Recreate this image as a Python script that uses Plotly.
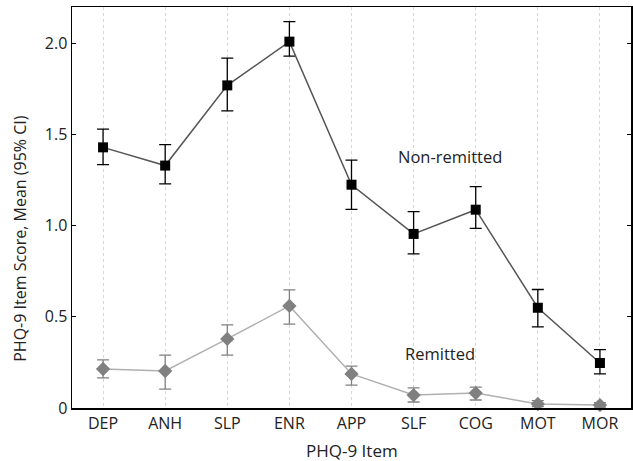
import plotly.graph_objects as go

items = ["DEP", "ANH", "SLP", "ENR", "APP", "SLF", "COG", "MOT", "MOR"]

nonrem_mean = [1.43, 1.33, 1.77, 2.01, 1.225, 0.955, 1.088, 0.55, 0.247]
nonrem_hi = [1.53, 1.445, 1.92, 2.12, 1.36, 1.077, 1.214, 0.65, 0.32]
nonrem_lo = [1.335, 1.23, 1.63, 1.93, 1.09, 0.846, 0.985, 0.445, 0.187]

rem_mean = [0.214, 0.203, 0.379, 0.56, 0.187, 0.071, 0.082, 0.022, 0.016]
rem_hi = [0.264, 0.29, 0.456, 0.648, 0.23, 0.11, 0.115, 0.04, 0.03]
rem_lo = [0.165, 0.104, 0.29, 0.46, 0.126, 0.033, 0.044, 0.008, 0.005]

y_ticks = [0, 0.5, 1.0, 1.5, 2.0]
y_tick_text = ["0", "0.5", "1.0", "1.5", "2.0"]

FONT = "Open Sans"
TXT = "#222222"

fig = go.Figure()

fig.add_trace(go.Scatter(
    x=items, y=rem_mean, mode="lines+markers",
    line=dict(color="#b0b0b0", width=1.5),
    marker=dict(symbol="diamond", size=11, color="#808080"),
    error_y=dict(type="data", symmetric=False,
                 array=[h - m for h, m in zip(rem_hi, rem_mean)],
                 arrayminus=[m - l for m, l in zip(rem_mean, rem_lo)],
                 color="#808080", thickness=1.3, width=6),
    showlegend=False, cliponaxis=False, hoverinfo="skip",
))

fig.add_trace(go.Scatter(
    x=items, y=nonrem_mean, mode="lines+markers",
    line=dict(color="#555555", width=1.5),
    marker=dict(symbol="square", size=10, color="#000000"),
    error_y=dict(type="data", symmetric=False,
                 array=[h - m for h, m in zip(nonrem_hi, nonrem_mean)],
                 arrayminus=[m - l for m, l in zip(nonrem_mean, nonrem_lo)],
                 color="#000000", thickness=1.3, width=6),
    showlegend=False, cliponaxis=False, hoverinfo="skip",
))

fig.add_annotation(x="SLF", xshift=36, y=1.38, text="Non-remitted", showarrow=False,
                   font=dict(family=FONT, size=16.5, color=TXT))
fig.add_annotation(x="SLF", xshift=26, y=0.3, text="Remitted", showarrow=False,
                   font=dict(family=FONT, size=16.5, color=TXT))

# axis titles
fig.add_annotation(xref="paper", yref="paper", x=0.5, y=0, yshift=-42,
                   xanchor="center", yanchor="middle", showarrow=False,
                   text="PHQ-9 Item", font=dict(family=FONT, size=17, color=TXT))
fig.add_annotation(xref="paper", yref="paper", x=0, xshift=-52, y=0.422,
                   xanchor="center", yanchor="middle", showarrow=False, textangle=-90,
                   text="PHQ-9 Item Score, Mean (95% CI)",
                   font=dict(family=FONT, size=16, color=TXT))

fig.update_layout(
    width=633, height=461,
    margin=dict(l=72, r=2, t=7, b=53),
    paper_bgcolor="white", plot_bgcolor="white",
    font=dict(family=FONT, size=15, color=TXT),
    xaxis=dict(
        type="category", categoryorder="array", categoryarray=items,
        range=[-0.5, 8.5], automargin=False,
        showgrid=True, gridcolor="#d6d6d6", griddash="3px,3px", gridwidth=1,
        showline=True, linecolor="black", linewidth=1.5, mirror=True,
        ticks="", tickfont=dict(family=FONT, size=16, color=TXT),
        zeroline=False,
    ),
    yaxis=dict(
        range=[0, 2.2], tickvals=y_ticks, ticktext=y_tick_text, automargin=False,
        showgrid=False, zeroline=False,
        showline=True, linecolor="black", linewidth=1.5, mirror="allticks",
        ticks="inside", ticklen=4, tickcolor="black", tickwidth=1,
        tickfont=dict(family=FONT, size=16, color=TXT),
    ),
)

fig.write_html("out.html", config={"displayModeBar": False, "staticPlot": True},
               post_script="document.body.style.margin='0';document.body.style.overflow='hidden';")
